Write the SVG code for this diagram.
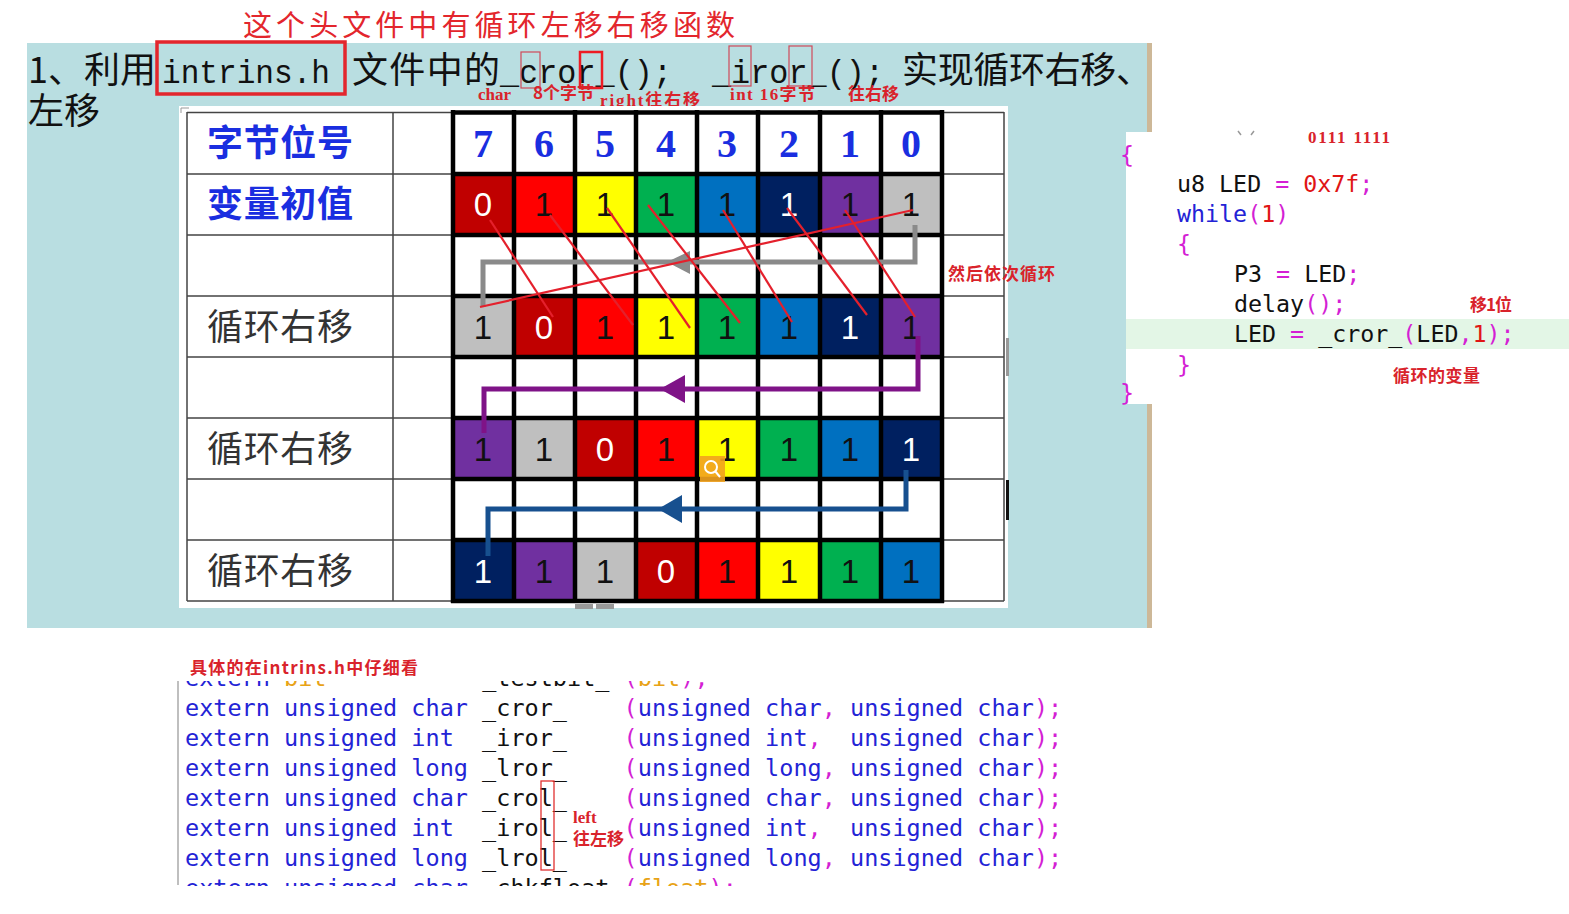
<svg xmlns="http://www.w3.org/2000/svg" width="1569" height="914" viewBox="0 0 1569 914">
<style>
.cjk{font-family:"Noto Sans CJK SC","Noto Sans",sans-serif}
.mono{font-family:"Liberation Mono","DejaVu Sans Mono",monospace}
.note{font-family:"Liberation Serif","Noto Sans CJK SC",serif;font-weight:bold;fill:#d9232b;font-size:17px}
.notecjk{font-family:"Noto Sans CJK SC",sans-serif;font-weight:bold;fill:#d9232b;font-size:17px}
.lbl{font-family:"Noto Sans CJK SC",sans-serif;font-size:36px}
.hd{font-family:"Liberation Serif",serif;font-weight:bold;font-size:40px;fill:#1a2ee0;text-anchor:middle}
.dg{font-family:"Liberation Sans",sans-serif;font-size:33px;text-anchor:middle;fill:#111}
.w{fill:#fff}
.thin{stroke:#444;stroke-width:1.5;fill:none}
.thick{stroke:#000;stroke-width:4.5;fill:none}
.rl{stroke:#e4202c;stroke-width:2.2;fill:none}
.code{font-family:"DejaVu Sans Mono",monospace;font-size:23.3px;fill:#111;white-space:pre}
.code2{font-family:"DejaVu Sans Mono",monospace;font-size:23.5px;fill:#111;white-space:pre}
.bl{fill:#2323d6}
.mg{fill:#d41fd4}
.rd{fill:#e01515}
.or{fill:#e8a317}
</style>
<defs>
<clipPath id="codeclip"><rect x="170" y="681" width="950" height="205"/></clipPath>
</defs>
<rect x="0" y="0" width="1569" height="914" fill="#fff"/>
<!-- teal slide background -->
<rect x="27" y="43" width="1123" height="585" fill="#b9dee1"/>
<rect x="1147" y="43" width="5" height="585" fill="#cdb898"/>

<!-- header -->
<g id="header">
<text class="cjk" x="243" y="36" font-size="29" fill="#e3262d" textLength="492">这个头文件中有循环左移右移函数</text>
<text class="cjk" x="28" y="83" font-size="36" fill="#111">1、利用</text>
<text class="mono" x="162" y="83" font-size="33" fill="#111" textLength="168" lengthAdjust="spacingAndGlyphs">intrins.h</text>
<text class="cjk" x="352" y="83" font-size="36" fill="#111" textLength="148">文件中的</text>
<text class="mono" x="500" y="83" font-size="33" fill="#111" textLength="172" lengthAdjust="spacingAndGlyphs">_cror_();</text>
<text class="mono" x="712" y="83" font-size="33" fill="#111" textLength="172" lengthAdjust="spacingAndGlyphs">_iror_();</text>
<text class="cjk" x="902" y="83" font-size="36" fill="#111" textLength="250">实现循环右移、</text>
<text class="cjk" x="28" y="124" font-size="36" fill="#111">左移</text>
<rect x="157" y="42" width="188" height="52" fill="none" stroke="#e3262d" stroke-width="3.5"/>
<rect x="521" y="52" width="19" height="36" fill="none" stroke="#d04a5a" stroke-width="1.2"/>
<rect x="580" y="52" width="22" height="36" fill="none" stroke="#ee1c24" stroke-width="2.5"/>
<rect x="729" y="46" width="22" height="40" fill="none" stroke="#d04a5a" stroke-width="1.2"/>
<rect x="789" y="46" width="23" height="40" fill="none" stroke="#d04a5a" stroke-width="1.2"/>
<text class="note" x="478" y="100" font-size="16">char</text>
<text class="notecjk" x="533" y="99" font-size="16">8个字节</text>
<text class="note" x="600" y="106" textLength="100">right<tspan class="notecjk">往右移</tspan></text>
<text class="note" x="730" y="100" textLength="85">int 16<tspan class="notecjk">字节</tspan></text>
<text class="notecjk" x="848" y="100">往右移</text>
</g>

<!-- table -->
<g id="table">
<rect x="179" y="106" width="829" height="502" fill="#fff"/>
<path d="M181,108 h8 M181,108 v5" stroke="#999" stroke-width="1"/>
<text class="lbl" x="207" y="156" fill="#1a2ee0" font-weight="bold" textLength="146">字节位号</text>
<text class="lbl" x="207" y="217" fill="#1a2ee0" font-weight="bold" textLength="146">变量初值</text>
<text class="lbl" x="207" y="340" fill="#333" textLength="146">循环右移</text>
<text class="lbl" x="207" y="462" fill="#333" textLength="146">循环右移</text>
<text class="lbl" x="207" y="584" fill="#333" textLength="146">循环右移</text>
<g id="hdr">
<text class="hd" x="483" y="157">7</text><text class="hd" x="544" y="157">6</text><text class="hd" x="605" y="157">5</text><text class="hd" x="666" y="157">4</text><text class="hd" x="727" y="157">3</text><text class="hd" x="789" y="157">2</text><text class="hd" x="850" y="157">1</text><text class="hd" x="911" y="157">0</text>
</g>
<g id="row2">
<rect x="453" y="174" width="61" height="61" fill="#c00000"/><rect x="514" y="174" width="61" height="61" fill="#ff0000"/><rect x="575" y="174" width="61" height="61" fill="#ffff00"/><rect x="636" y="174" width="61" height="61" fill="#00b050"/><rect x="697" y="174" width="61" height="61" fill="#0070c0"/><rect x="758" y="174" width="62" height="61" fill="#002060"/><rect x="820" y="174" width="61" height="61" fill="#7030a0"/><rect x="881" y="174" width="61" height="61" fill="#bfbfbf"/>
<text class="dg w" x="483" y="216">0</text><text class="dg" x="544" y="216">1</text><text class="dg" x="605" y="216">1</text><text class="dg" x="666" y="216">1</text><text class="dg" x="727" y="216">1</text><text class="dg w" x="789" y="216">1</text><text class="dg" x="850" y="216">1</text><text class="dg" x="911" y="216">1</text>
</g>
<g id="row4">
<rect x="453" y="296" width="61" height="61" fill="#bfbfbf"/><rect x="514" y="296" width="61" height="61" fill="#c00000"/><rect x="575" y="296" width="61" height="61" fill="#ff0000"/><rect x="636" y="296" width="61" height="61" fill="#ffff00"/><rect x="697" y="296" width="61" height="61" fill="#00b050"/><rect x="758" y="296" width="62" height="61" fill="#0070c0"/><rect x="820" y="296" width="61" height="61" fill="#002060"/><rect x="881" y="296" width="61" height="61" fill="#7030a0"/>
<text class="dg" x="483" y="339">1</text><text class="dg w" x="544" y="339">0</text><text class="dg" x="605" y="339">1</text><text class="dg" x="666" y="339">1</text><text class="dg" x="727" y="339">1</text><text class="dg" x="789" y="339">1</text><text class="dg w" x="850" y="339">1</text><text class="dg" x="911" y="339">1</text>
</g>
<g id="row6">
<rect x="453" y="418" width="61" height="61" fill="#7030a0"/><rect x="514" y="418" width="61" height="61" fill="#bfbfbf"/><rect x="575" y="418" width="61" height="61" fill="#c00000"/><rect x="636" y="418" width="61" height="61" fill="#ff0000"/><rect x="697" y="418" width="61" height="61" fill="#ffff00"/><rect x="758" y="418" width="62" height="61" fill="#00b050"/><rect x="820" y="418" width="61" height="61" fill="#0070c0"/><rect x="881" y="418" width="61" height="61" fill="#002060"/>
<text class="dg" x="483" y="461">1</text><text class="dg" x="544" y="461">1</text><text class="dg w" x="605" y="461">0</text><text class="dg" x="666" y="461">1</text><text class="dg" x="727" y="461">1</text><text class="dg" x="789" y="461">1</text><text class="dg" x="850" y="461">1</text><text class="dg w" x="911" y="461">1</text>
</g>
<g id="row8">
<rect x="453" y="540" width="61" height="61" fill="#002060"/><rect x="514" y="540" width="61" height="61" fill="#7030a0"/><rect x="575" y="540" width="61" height="61" fill="#bfbfbf"/><rect x="636" y="540" width="61" height="61" fill="#c00000"/><rect x="697" y="540" width="61" height="61" fill="#ff0000"/><rect x="758" y="540" width="62" height="61" fill="#ffff00"/><rect x="820" y="540" width="61" height="61" fill="#00b050"/><rect x="881" y="540" width="61" height="61" fill="#0070c0"/>
<text class="dg w" x="483" y="583">1</text><text class="dg" x="544" y="583">1</text><text class="dg" x="605" y="583">1</text><text class="dg w" x="666" y="583">0</text><text class="dg" x="727" y="583">1</text><text class="dg" x="789" y="583">1</text><text class="dg" x="850" y="583">1</text><text class="dg" x="911" y="583">1</text>
</g>
<g id="gridlines">
<path class="thin" d="M187,112.5H1004M187,174H1004M187,235H1004M187,296H1004M187,357H1004M187,418H1004M187,479H1004M187,540H1004M187,601H1004M187,112V601M393,112V601M1004,112V601"/>
<path class="thick" d="M451,112.5H944M451,174H944M451,235H944M451,296H944M451,357H944M451,418H944M451,479H944M451,540H944M451,601H944M453,110V603M514,110V603M575,110V603M636,110V603M697,110V603M758,110V603M820,110V603M881,110V603M942,110V603"/>
</g>
<rect x="700" y="456" width="25" height="26" fill="#f2a21e" opacity="0.9"/>
<circle cx="711" cy="467" r="6" fill="none" stroke="#fff" stroke-width="2"/>
<path d="M715,471 L720,477" stroke="#fff" stroke-width="2"/>
<rect x="575" y="604" width="18" height="5" fill="#999"/><rect x="596" y="604" width="18" height="5" fill="#999"/>
<rect x="1006" y="338" width="3" height="38" fill="#999"/>
<rect x="1006" y="480" width="3" height="40" fill="#111"/>
</g>

<!-- connectors -->
<g id="connectors">
<path d="M915,225V262H483V307" stroke="#8a8a8a" stroke-width="5" fill="none"/>
<polygon points="667,262 690,251 690,274" fill="#8a8a8a"/>
<g id="redlines">
<path class="rl" d="M490,220L553,317"/>
<path class="rl" d="M550,215L633,325"/>
<path class="rl" d="M607,208L690,328"/>
<path class="rl" d="M648,205L740,323"/>
<path class="rl" d="M723,210L792,322"/>
<path class="rl" d="M787,208L867,315"/>
<path class="rl" d="M845,210L915,317"/>
<path class="rl" d="M913,210L480,307"/>
</g>
<path d="M918,336V389H484V433" stroke="#7f1387" stroke-width="5" fill="none"/>
<polygon points="660,389 685,375 685,403" fill="#7f1387"/>
<path d="M906,470V509H488V556" stroke="#17508f" stroke-width="5" fill="none"/>
<polygon points="658,509 682,495 682,523" fill="#17508f"/>
</g>
<text class="notecjk" x="948" y="280" textLength="107">然后依次循环</text>

<!-- right code panel -->
<g id="codepanel">
<rect x="1126" y="132" width="443" height="272" fill="#fff"/>
<rect x="1126" y="319" width="443" height="30" fill="#e3f6e6"/>
<path d="M1238,131 l3,4 M1254,131 l-3,4" stroke="#999" stroke-width="1.5"/>
<text class="note" x="1308" y="143" font-weight="normal" textLength="82">0111 1111</text>
<text class="code mg" x="1120" y="163" xml:space="preserve">{</text>
<text class="code" x="1177" y="192" xml:space="preserve">u8 LED <tspan class="mg">=</tspan> <tspan class="rd">0x7f</tspan><tspan class="mg">;</tspan></text>
<text class="code" x="1177" y="222" xml:space="preserve"><tspan class="bl">while</tspan><tspan class="mg">(</tspan><tspan class="rd">1</tspan><tspan class="mg">)</tspan></text>
<text class="code mg" x="1177" y="252" xml:space="preserve">{</text>
<text class="code" x="1234" y="282" xml:space="preserve">P3 <tspan class="mg">=</tspan> LED<tspan class="mg">;</tspan></text>
<text class="code" x="1234" y="312" xml:space="preserve">delay<tspan class="mg">();</tspan></text>
<text class="code" x="1234" y="342" xml:space="preserve">LED <tspan class="mg">=</tspan> _cror_<tspan class="mg">(</tspan>LED<tspan class="mg">,</tspan><tspan class="rd">1</tspan><tspan class="mg">);</tspan></text>
<text class="code mg" x="1177" y="373" xml:space="preserve">}</text>
<text class="code mg" x="1120" y="401" xml:space="preserve">}</text>
<text class="notecjk" x="1470" y="311" textLength="42">移1位</text>
<text class="notecjk" x="1393" y="382" textLength="87">循环的变量</text>
</g>

<!-- bottom code -->
<g id="intrins">
<text class="notecjk" x="190" y="674" font-size="16" textLength="228">具体的在intrins.h中仔细看</text>
<line x1="178" y1="681" x2="178" y2="885" stroke="#aaa" stroke-width="1.5"/>
<g clip-path="url(#codeclip)">
<text class="code2" x="185" y="686" xml:space="preserve"><tspan class="bl">extern</tspan> <tspan class="or">bit</tspan>           _testbit_ <tspan class="mg">(</tspan><tspan class="or">bit</tspan><tspan class="mg">);</tspan></text>
<text class="code2" x="185" y="716" xml:space="preserve"><tspan class="bl">extern unsigned char</tspan> _cror_    <tspan class="mg">(</tspan><tspan class="bl">unsigned char</tspan><tspan class="mg">,</tspan> <tspan class="bl">unsigned char</tspan><tspan class="mg">);</tspan></text>
<text class="code2" x="185" y="746" xml:space="preserve"><tspan class="bl">extern unsigned int</tspan>  _iror_    <tspan class="mg">(</tspan><tspan class="bl">unsigned int</tspan><tspan class="mg">,</tspan>  <tspan class="bl">unsigned char</tspan><tspan class="mg">);</tspan></text>
<text class="code2" x="185" y="776" xml:space="preserve"><tspan class="bl">extern unsigned long</tspan> _lror_    <tspan class="mg">(</tspan><tspan class="bl">unsigned long</tspan><tspan class="mg">,</tspan> <tspan class="bl">unsigned char</tspan><tspan class="mg">);</tspan></text>
<text class="code2" x="185" y="806" xml:space="preserve"><tspan class="bl">extern unsigned char</tspan> _crol_    <tspan class="mg">(</tspan><tspan class="bl">unsigned char</tspan><tspan class="mg">,</tspan> <tspan class="bl">unsigned char</tspan><tspan class="mg">);</tspan></text>
<text class="code2" x="185" y="836" xml:space="preserve"><tspan class="bl">extern unsigned int</tspan>  _irol_    <tspan class="mg">(</tspan><tspan class="bl">unsigned int</tspan><tspan class="mg">,</tspan>  <tspan class="bl">unsigned char</tspan><tspan class="mg">);</tspan></text>
<text class="code2" x="185" y="866" xml:space="preserve"><tspan class="bl">extern unsigned long</tspan> _lrol_    <tspan class="mg">(</tspan><tspan class="bl">unsigned long</tspan><tspan class="mg">,</tspan> <tspan class="bl">unsigned char</tspan><tspan class="mg">);</tspan></text>
<text class="code2" x="185" y="896" xml:space="preserve"><tspan class="bl">extern unsigned char</tspan> _chkfloat_<tspan class="mg">(</tspan><tspan class="or">float</tspan><tspan class="mg">);</tspan></text>
</g>
<rect x="541" y="781" width="13" height="89" fill="none" stroke="#e03030" stroke-width="1.3"/>
<text class="note" x="573" y="823">left</text>
<text class="notecjk" x="573" y="845">往左移</text>
</g>
</svg>
